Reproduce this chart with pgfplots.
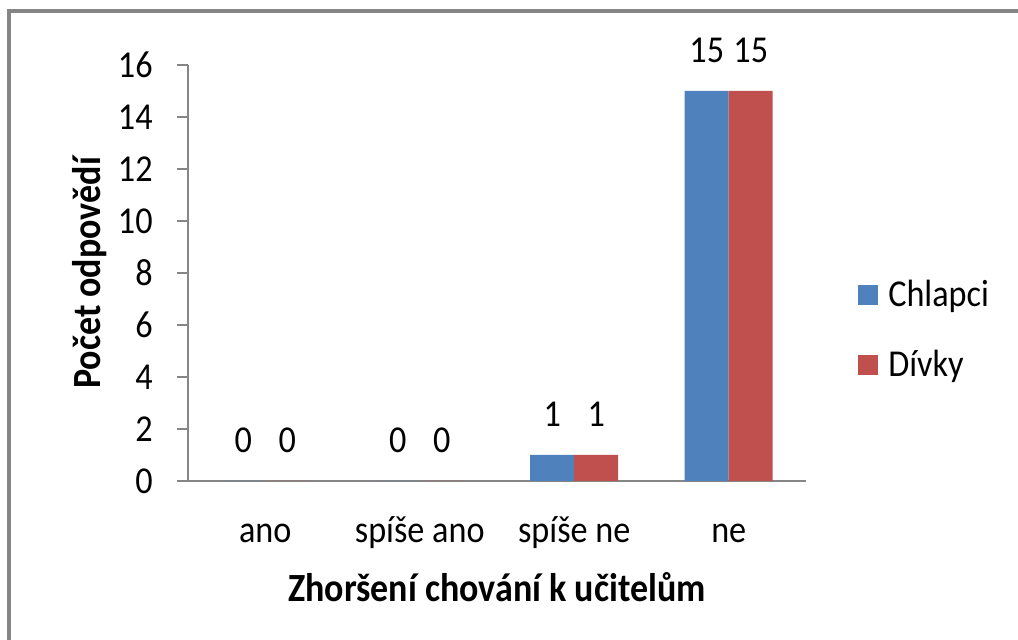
\documentclass[border=0pt]{standalone}
\usepackage{pgfplots}
\pgfplotsset{compat=1.18}
\usepackage{fontspec}
\setmainfont{Carlito}[FakeStretch=0.9]
\newcommand\cf{\fontsize{19}{22}\selectfont}
\newcommand\bfl{\fontsize{20}{24}\selectfont\bfseries}
\definecolor{cblue}{HTML}{4F81BD}
\definecolor{cred}{HTML}{C0504D}
\definecolor{axgray}{HTML}{868686}
\definecolor{framegray}{HTML}{858585}
\begin{document}
\begin{tikzpicture}
\useasboundingbox (0,0) rectangle (509pt,-320pt);
\clip (0,0) rectangle (509pt,-320pt);
\fill[white] (0,0) rectangle (509pt,-320pt);
\draw[framegray, line width=1.6pt] (4.5pt,-321pt) -- (4.5pt,-4.7pt);
\draw[framegray, line width=1.6pt] (3.7pt,-5.5pt) -- (510pt,-5.5pt);
\begin{axis}[
  at={(94pt,-240.5pt)}, anchor=south west,
  scale only axis, width=309pt, height=208pt,
  /pgf/number format/assume math mode=true,
  ybar=0pt, bar width=22pt,
  xmin=-0.5, xmax=3.5, ymin=0, ymax=16,
  axis x line*=bottom, axis y line*=left,
  axis line style={axgray, line width=0.8pt, -},
  xtick={0,1,2,3},
  xticklabels={ano, spíše ano, spíše ne, ne},
  x tick style={draw=none},
  extra x ticks={-0.5,0.5,1.5,2.5,3.5},
  extra x tick labels={},
  extra x tick style={major tick length=6pt, tick align=outside, tick style={axgray, line width=0.8pt}},
  ytick={0,2,...,16},
  y tick style={axgray, line width=0.8pt},
  tick align=outside, major tick length=5.5pt,
  xticklabel style={font=\cf, anchor=center, yshift=-20.5pt},
  yticklabel style={font=\cf, anchor=east, inner sep=0pt, xshift=-12pt},
  ylabel={Počet odpovědí},
  ylabel style={font=\bfl, at={(axis description cs:-0.159,0.5)}, anchor=center},
  xlabel={Zhoršení chování k učitelům},
  xlabel style={font=\bfl, at={(axis description cs:0.5,-0.255)}, anchor=center},
  nodes near coords,
  every node near coord/.append style={font=\cf, anchor=base, inner sep=0pt, yshift=14pt, black},
  legend style={at={(axis description cs:1.084,0.363)}, anchor=west, draw=none, fill=none,
    font=\cf, row sep=20pt, inner sep=0pt, nodes={inner sep=0pt}, column sep=5pt},
  legend cell align=left,
  legend image code/.code={\fill[#1] (0pt,-5pt) rectangle (10pt,5pt);},
  clip=false,
]
\addplot[fill=cblue, draw=none] coordinates {(0,0) (1,0) (2,1) (3,15)};
\addplot[fill=cred, draw=none] coordinates {(0,0) (1,0) (2,1) (3,15)};
\legend{Chlapci, Dívky}
\end{axis}
\end{tikzpicture}
\end{document}
